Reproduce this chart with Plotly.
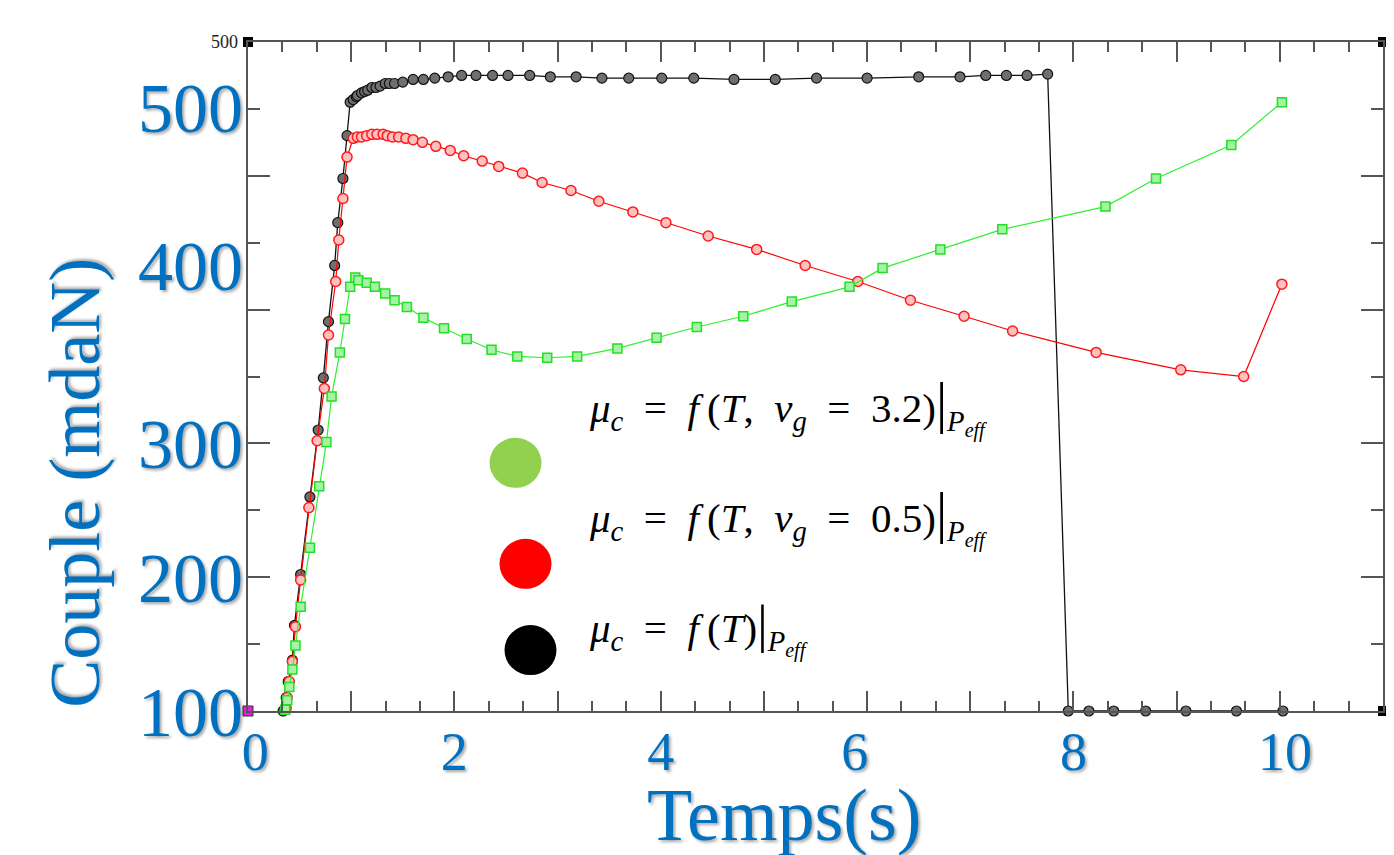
import plotly.graph_objects as go

# ---------------- data ----------------
black_x = [0.34, 0.37, 0.39, 0.43, 0.45, 0.51, 0.60, 0.68, 0.73, 0.78, 0.84, 0.87, 0.92, 0.96, 0.99,
           1.02, 1.05, 1.06, 1.10, 1.13, 1.16, 1.20, 1.24, 1.28, 1.33, 1.37, 1.42,
           1.50, 1.60, 1.70, 1.81, 1.94, 2.07, 2.21, 2.37, 2.52, 2.73, 2.93,
           3.18, 3.43, 3.69, 4.01, 4.32, 4.71, 5.11, 5.51, 6.00, 6.50, 6.90, 7.15, 7.35, 7.55, 7.75,
           7.95, 8.15, 8.39, 8.70, 9.09, 9.58, 10.03]
black_y = [0, 10, 22, 38, 64, 102, 160, 210, 249, 291, 333, 365, 398, 430, 455,
           457, 459, 460, 462, 463, 464, 466, 466, 467, 469, 469, 469,
           470, 472, 472, 473, 474, 475, 475, 475, 475, 475, 474,
           474, 473, 473, 473, 473, 472, 472, 473, 473, 474, 474, 475, 475, 475, 476,
           0, 0, 0, 0, 0, 0, 0]

red_x = [0.37, 0.38, 0.40, 0.43, 0.46, 0.51, 0.59, 0.67, 0.74, 0.78, 0.85, 0.88, 0.92, 0.96,
         1.02, 1.06, 1.10, 1.15, 1.20, 1.25, 1.31, 1.35, 1.40, 1.46, 1.53, 1.60, 1.69, 1.82,
         1.96, 2.09, 2.27, 2.43, 2.66, 2.85, 3.13, 3.40, 3.73, 4.05, 4.46, 4.93, 5.40, 5.91,
         6.42, 6.94, 7.41, 8.22, 9.04, 9.65, 10.02]
red_y = [2, 10, 22, 37, 63, 98, 152, 202, 241, 281, 321, 352, 383, 414,
         428, 429, 429, 430, 431, 431, 431, 430, 429, 429, 428, 427, 425, 422,
         419, 415, 411, 407, 402, 395, 389, 381, 373, 365, 355, 345, 333, 321,
         307, 295, 284, 268, 255, 250, 319]

green_x = [0.36, 0.38, 0.40, 0.43, 0.46, 0.51, 0.60, 0.69, 0.76, 0.81, 0.89, 0.94, 0.99,
           1.04, 1.07, 1.15, 1.23, 1.33, 1.42, 1.54, 1.70, 1.90, 2.12, 2.36, 2.61, 2.90,
           3.19, 3.58, 3.96, 4.35, 4.80, 5.27, 5.83, 6.15, 6.71, 7.31, 8.31, 8.80, 9.53, 10.02]
green_y = [1, 8, 18, 31, 49, 78, 122, 168, 201, 235, 268, 293, 317,
           324, 322, 320, 317, 312, 307, 302, 294, 286, 278, 270, 265, 264,
           265, 271, 279, 287, 295, 306, 317, 331, 345, 360, 377, 398, 423, 455]

origin_x = [0]
origin_y = [0]
corner_x = [0, 11, 11]
corner_y = [500, 500, 0]

x_range = [0, 11]
y_range = [0, 500]
x_major = list(range(0, 12))
y_major = [0, 100, 200, 300, 400, 500]

# blue overlay labels as they appear on the slide
x_label_vals = [0.07, 2, 4, 5.88, 8, 10.05]
x_label_text = ["0", "2", "4", "6", "8", "10"]
y_label_vals = [0, 100, 200, 333, 451]
y_label_text = ["100", "200", "300", "400", "500"]

legend_labels = [
    "<i>μ</i><sub><i>c</i></sub>\u2002=\u2002<i>f</i>\u2009(<i>T</i>,\u2002<i>v</i><sub><i>g</i></sub>\u2002=\u20023.2)"
    "<span style='font-size:56px'>|</span><sub><i>P<sub>eff</sub></i></sub>",
    "<i>μ</i><sub><i>c</i></sub>\u2002=\u2002<i>f</i>\u2009(<i>T</i>,\u2002<i>v</i><sub><i>g</i></sub>\u2002=\u20020.5)"
    "<span style='font-size:56px'>|</span><sub><i>P<sub>eff</sub></i></sub>",
    "<i>μ</i><sub><i>c</i></sub>\u2002=\u2002<i>f</i>\u2009(<i>T</i>)"
    "<span style='font-size:52px'>|</span><sub><i>P<sub>eff</sub></i></sub>",
]
legend_colors = ["#92D050", "#FF0000", "#000000"]

BLUE = "#0070C0"
SERIF = "Liberation Serif, Times New Roman, serif"
SHADOW = "2px 2px 3px rgba(0,0,0,0.35)"
AX = "#555555"

fig = go.Figure()

fig.add_trace(go.Scatter(
    x=black_x, y=black_y, mode="lines+markers", cliponaxis=False,
    line=dict(color="#111111", width=1.3),
    marker=dict(symbol="circle", size=10, color="#6f6f6f", line=dict(color="#111111", width=1.2)),
    name="μc = f(T)"))
fig.add_trace(go.Scatter(
    x=red_x, y=red_y, mode="lines+markers", cliponaxis=False,
    line=dict(color="#ff0000", width=1.2),
    marker=dict(symbol="circle", size=10, color="#ffc0c0", line=dict(color="#ff1a1a", width=1.5)),
    name="μc = f(T, vg = 0.5)"))
fig.add_trace(go.Scatter(
    x=green_x, y=green_y, mode="lines+markers", cliponaxis=False,
    line=dict(color="#2ef02e", width=1.2),
    marker=dict(symbol="square", size=9, color="#a6f2a6", line=dict(color="#22e022", width=1.5)),
    name="μc = f(T, vg = 3.2)"))
fig.add_trace(go.Scatter(
    x=origin_x, y=origin_y, mode="markers", cliponaxis=False,
    marker=dict(symbol="square", size=10, color="#e020e0", line=dict(color="#333333", width=1)),
    name="origin"))
fig.add_trace(go.Scatter(
    x=corner_x, y=corner_y, mode="markers", cliponaxis=False,
    marker=dict(symbol="square", size=10, color="#000000"),
    name="corners"))

# the page body has an 8px margin: size the figure so the plot lands where the slide has it
fig.update_layout(
    width=1386, height=847,
    margin=dict(l=240, r=9, t=34, b=144),
    paper_bgcolor="white", plot_bgcolor="white",
    showlegend=False,
    xaxis=dict(range=x_range, tickmode="array", tickvals=x_major,
               ticks="inside", ticklen=20, tickwidth=1.5, tickcolor=AX,
               showticklabels=False, showline=True, linecolor=AX, linewidth=1.6,
               mirror="ticks", showgrid=False, zeroline=False,
               minor=dict(ticks="inside", tickmode="linear", tick0=0, dtick=1/3,
                          ticklen=10, tickwidth=1.5, tickcolor=AX, showgrid=False)),
    yaxis=dict(range=y_range, tickmode="array", tickvals=y_major,
               ticks="inside", ticklen=22, tickwidth=1.5, tickcolor=AX,
               showticklabels=False, showline=True, linecolor=AX, linewidth=1.6,
               mirror="ticks", showgrid=False, zeroline=False,
               minor=dict(ticks="inside", tickmode="linear", tick0=0, dtick=50,
                          ticklen=12, tickwidth=1.5, tickcolor=AX, showgrid=False)),
    xaxis2=dict(overlaying="x", anchor="y", side="bottom", range=x_range,
                tickmode="array", tickvals=x_label_vals, ticktext=x_label_text,
                ticks="", showline=False, showgrid=False, zeroline=False,
                ticklabelstandoff=4,
                tickfont=dict(family=SERIF, size=54, color=BLUE, shadow=SHADOW)),
    yaxis2=dict(overlaying="y", anchor="x", side="left", range=y_range,
                tickmode="array", tickvals=y_label_vals, ticktext=y_label_text,
                ticks="", showline=False, showgrid=False, zeroline=False,
                ticklabelstandoff=4,
                tickfont=dict(family=SERIF, size=70, color=BLUE, shadow=SHADOW)),
)

# an invisible trace so the overlay axes are drawn
fig.add_trace(go.Scatter(x=[x_range[0]], y=[y_range[0]], xaxis="x2", yaxis="y2",
                         mode="markers", marker=dict(opacity=0), hoverinfo="skip",
                         showlegend=False))

# axis titles
fig.add_annotation(text="Couple (mdaN)", xref="paper", yref="paper", x=-0.152, y=0.342,
                   xanchor="center", yanchor="middle", textangle=-90, showarrow=False,
                   font=dict(family=SERIF, size=72, color=BLUE, shadow=SHADOW))
fig.add_annotation(text="Temps(s)", xref="paper", yref="paper", x=0.472, y=-0.155,
                   xanchor="center", yanchor="middle", showarrow=False,
                   font=dict(family=SERIF, size=74, color=BLUE, shadow=SHADOW))
# small original tick label
fig.add_annotation(text="500", xref="paper", yref="y", x=0, y=500, xanchor="right",
                   yanchor="middle", xshift=-8, showarrow=False,
                   font=dict(family=SERIF, size=18, color="#222222"))

# legend: keys + formulas
legend_key_y = [0.371, 0.220, 0.091]
legend_key_x = [0.2357, 0.2445, 0.2489]
legend_text_y = [0.455, 0.290, 0.122]
for lab, col, ky, kx, ty in zip(legend_labels, legend_colors, legend_key_y, legend_key_x, legend_text_y):
    fig.add_shape(type="circle", xref="paper", yref="paper",
                  xsizemode="pixel", ysizemode="pixel", xanchor=kx, yanchor=ky,
                  x0=-26, x1=26, y0=-25, y1=25, fillcolor=col, line=dict(width=0))
    fig.add_annotation(text=lab, xref="paper", yref="paper", x=0.299, y=ty,
                       xanchor="left", yanchor="middle", showarrow=False,
                       font=dict(family=SERIF, size=41, color="#000000"))

fig.write_html("out.html")
